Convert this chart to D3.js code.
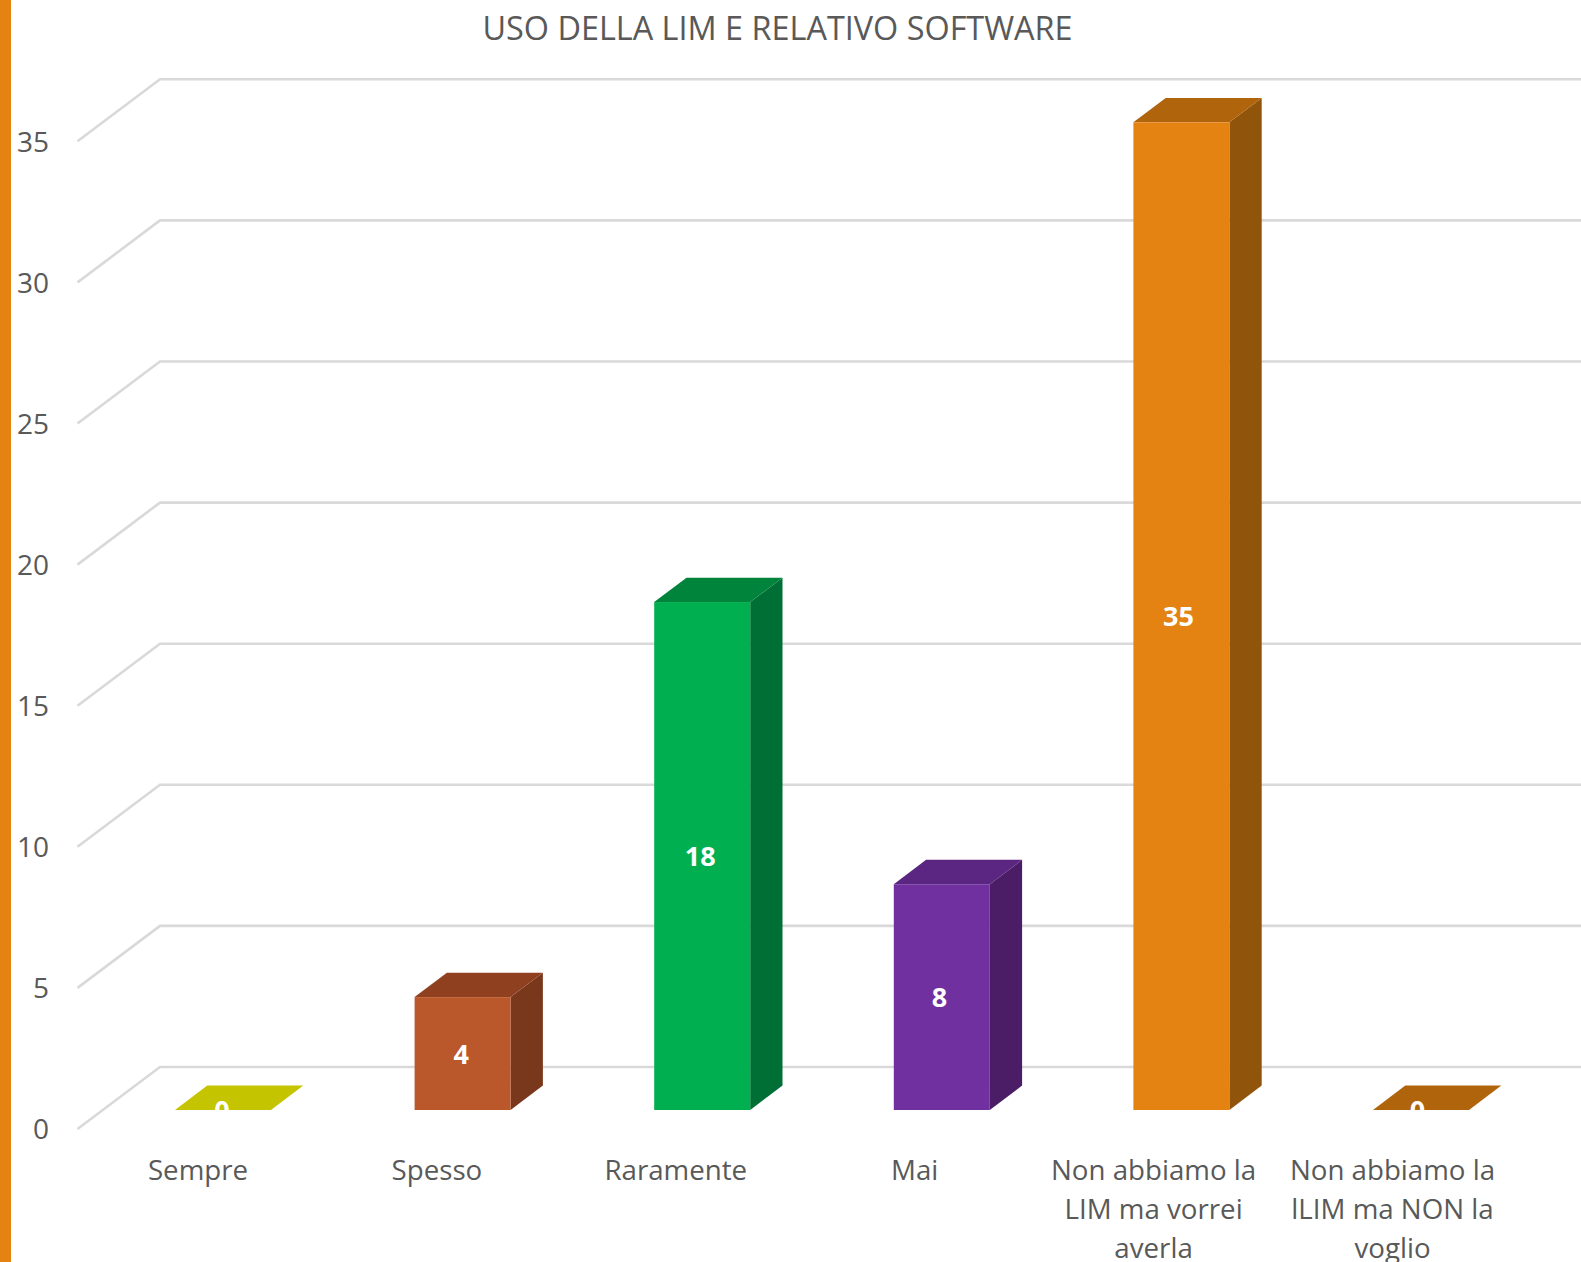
<!DOCTYPE html>
<html>
<head>
<meta charset="utf-8">
<script src="https://cdn.jsdelivr.net/npm/d3@7"></script>
<style>
  html, body { margin: 0; padding: 0; background: #fff; overflow: hidden; }
  text { font-family: "Open Sans", sans-serif; fill: #595959; }
</style>
</head>
<body>
<svg id="chart" width="1581" height="1262"></svg>
<script>
const categories = ["Sempre", "Spesso", "Raramente", "Mai",
    "Non abbiamo la LIM ma vorrei averla", "Non abbiamo la lLIM ma NON la voglio"];
const values = [0, 4, 18, 8, 35, 0];
const yTicks = [0, 5, 10, 15, 20, 25, 30, 35];
const title = "USO DELLA LIM E RELATIVO SOFTWARE";

const frontColors = ["#c4c400", "#bb582b", "#00b050", "#7030a0", "#e48312", "#e48312"];
const topColors = ["#c4c400", "#8f411f", "#00843c", "#5a2682", "#b0640c", "#b0640c"];
const sideColors = ["#a0a000", "#79381c", "#006f35", "#4a1d66", "#90540a", "#90540a"];

const width = 1581, height = 1262;
const depthX = 32.3, depthY = 24.4;   // 3d offset of the bars
const wallX = 160, floorX = 77.5;     // back wall / front edge of the floor
const wallDy = -43, floorDy = 19;     // grid offset from the bar plane

const svg = d3.select("#chart");

const x = d3.scaleBand()
    .domain(categories)
    .range([103.2, 1540.8])
    .paddingInner(0.5993)
    .paddingOuter(0.29965);

const y = d3.scaleLinear().domain([0, 35]).range([1110, 122.3]);

// category labels and value labels run on a slightly tighter step than the bars
const xLabel = d3.scalePoint().domain(categories).range([198, 1392.5]);
const xValue = d3.scalePoint().domain(categories).range([222, 1417.6]);

// orange strip on the left of the slide
svg.append("rect")
    .attr("width", 11)
    .attr("height", height)
    .attr("fill", "#e48312");

svg.append("text")
    .attr("x", 777.5)
    .attr("y", 40)
    .attr("text-anchor", "middle")
    .style("font-size", "32.4px")
    .text(title);

// Grid: slanted on the floor side, then flat along the back wall
svg.append("g").selectAll("path")
    .data(yTicks)
  .enter().append("path")
    .attr("d", d => `M${floorX},${y(d) + floorDy}L${wallX},${y(d) + wallDy}H${width}`)
    .attr("fill", "none")
    .attr("stroke", "#d9d9d9")
    .attr("stroke-width", 2.6);

// Y axis
const yAxis = svg.append("g")
    .attr("transform", `translate(49,${floorDy + 0.8})`)
    .call(d3.axisLeft(y).tickValues(yTicks).tickSize(0).tickPadding(0));
yAxis.select(".domain").remove();
yAxis.selectAll("text")
    .style("font-family", "'Open Sans', sans-serif")
    .style("font-size", "28px")
    .style("fill", "#595959");

// Bars
const bars = svg.append("g").selectAll("g")
    .data(categories)
  .enter().append("g");

const valueOf = (d, i) => values[i];

bars.filter((d, i) => values[i] > 0).append("path")
    .attr("d", function(d) {
        const i = categories.indexOf(d);
        const r = x(d) + x.bandwidth();
        return `M${r},${y(0)}L${r + depthX},${y(0) - depthY}V${y(values[i]) - depthY}L${r},${y(values[i])}Z`;
    })
    .attr("fill", d => sideColors[categories.indexOf(d)]);

bars.append("path")
    .attr("d", (d, i) => {
        const l = x(d), r = l + x.bandwidth(), t = y(valueOf(d, i));
        return `M${l},${t}L${l + depthX},${t - depthY}H${r + depthX}L${r},${t}Z`;
    })
    .attr("fill", (d, i) => topColors[i]);

bars.append("rect")
    .attr("x", d => x(d))
    .attr("y", (d, i) => y(valueOf(d, i)))
    .attr("width", x.bandwidth())
    .attr("height", (d, i) => y(0) - y(valueOf(d, i)))
    .attr("fill", (d, i) => frontColors[i]);

// Value labels: the zeros sit on the baseline and get cut there
svg.append("clipPath").attr("id", "plot-clip")
  .append("rect")
    .attr("width", width)
    .attr("height", y(0));

svg.append("g")
    .attr("clip-path", "url(#plot-clip)")
  .selectAll("text")
    .data(categories)
  .enter().append("text")
    .attr("x", d => xValue(d))
    .attr("y", (d, i) => (y(0) + y(values[i])) / 2 + 0.6)
    .attr("dy", "0.36em")
    .attr("text-anchor", "middle")
    .style("font-size", "27px")
    .style("font-weight", 700)
    .style("fill", "#fff")
    .text((d, i) => values[i]);

// Category labels, wrapped
function wrap(selection, maxWidth) {
    selection.each(function() {
        const label = d3.select(this);
        const words = label.text().split(" ");
        const px = label.attr("x");
        label.text(null);
        let line = [];
        let tspan = label.append("tspan").attr("x", px);
        words.forEach(w => {
            line.push(w);
            tspan.text(line.join(" "));
            if (tspan.node().getComputedTextLength() > maxWidth && line.length > 1) {
                line.pop();
                tspan.text(line.join(" "));
                line = [w];
                tspan = label.append("tspan").attr("x", px).attr("dy", 39).text(w);
            }
        });
    });
}

svg.append("g").selectAll("text")
    .data(categories)
  .enter().append("text")
    .attr("x", d => xLabel(d))
    .attr("y", 1180)
    .attr("text-anchor", "middle")
    .style("font-size", "27.7px")
    .text(d => d)
    .call(wrap, 225);
</script>
</body>
</html>
